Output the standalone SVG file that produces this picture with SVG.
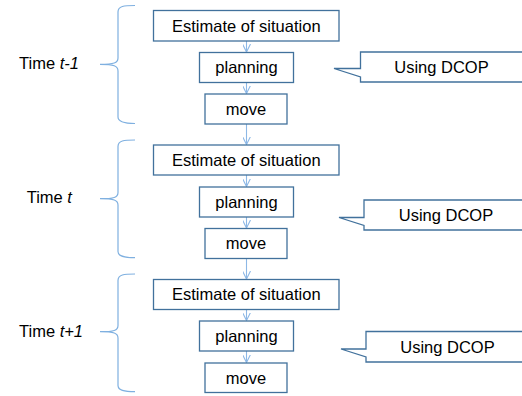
<svg xmlns="http://www.w3.org/2000/svg" width="522" height="396" viewBox="0 0 522 396">
<style>
.box{fill:#fff;stroke:#41719c;stroke-width:1.3}
.t{font-family:"Liberation Sans",Arial,sans-serif;font-size:16.5px;fill:#000}
.c{text-anchor:middle}
.br{fill:none;stroke:#7fb0e0;stroke-width:1.2}
.ar{fill:none;stroke:#8db8e6;stroke-width:1.1}
</style>
<defs>
<marker id="ah" markerWidth="10" markerHeight="8" refX="8" refY="4" orient="auto" markerUnits="userSpaceOnUse">
<path d="M0,0 L8,4 L0,8" fill="none" stroke="#8db8e6" stroke-width="1.1"/>
</marker>
</defs>
<g id="connectors">
<line class="ar" x1="246.5" y1="41" x2="246.5" y2="52" marker-end="url(#ah)"/>
<line class="ar" x1="246.5" y1="82.5" x2="246.5" y2="93.5" marker-end="url(#ah)"/>
<line class="ar" x1="246.5" y1="124" x2="246.5" y2="144.5" marker-end="url(#ah)"/>
<line class="ar" x1="246.5" y1="175" x2="246.5" y2="186.5" marker-end="url(#ah)"/>
<line class="ar" x1="246.5" y1="217" x2="246.5" y2="228" marker-end="url(#ah)"/>
<line class="ar" x1="246.5" y1="258.5" x2="246.5" y2="279" marker-end="url(#ah)"/>
<line class="ar" x1="246.5" y1="309.5" x2="246.5" y2="320.5" marker-end="url(#ah)"/>
<line class="ar" x1="246.5" y1="351" x2="246.5" y2="362.5" marker-end="url(#ah)"/>
</g>
<g id="brace1"><path class="br" d="M135,5.5 C124,5.5 118,6 118,12 L118,58 C118,63 114,64.3 100,64.3 C114,64.3 118,66 118,71 L118,117 C118,122 124,123.5 135,123.5"/><text class="t" x="19" y="69">Time <tspan font-style="italic">t-1</tspan></text></g>
<g id="brace2"><path class="br" d="M135,140 C124,140 118,140.5 118,146.5 L118,192.5 C118,197.5 114,198.7 100,198.7 C114,198.7 118,200 118,205 L118,251.5 C118,256.5 124,257.7 135,257.7"/><text class="t" x="26.7" y="203">Time <tspan font-style="italic">t</tspan></text></g>
<g id="brace3"><path class="br" d="M135,274 C124,274 118,274.5 118,280.5 L118,325.5 C118,330.5 114,331.7 100,331.7 C114,331.7 118,333 118,338 L118,385.5 C118,390.5 124,391.7 135,391.7"/><text class="t" x="19" y="337">Time <tspan font-style="italic">t+1</tspan></text></g>
<g id="est1"><rect class="box" x="153.5" y="10.5" width="185.5" height="30.5"/><text class="t c" x="246.3" y="31.5">Estimate of situation</text></g>
<g id="plan1"><rect class="box" x="199.5" y="52.5" width="94" height="30"/><text class="t c" x="246.5" y="73">planning</text></g>
<g id="move1"><rect class="box" x="205" y="94" width="82" height="30"/><text class="t c" x="246" y="114.5">move</text></g>
<g id="est2"><rect class="box" x="153.5" y="145" width="185.5" height="30"/><text class="t c" x="246.3" y="165.5">Estimate of situation</text></g>
<g id="plan2"><rect class="box" x="199.5" y="187" width="94" height="30"/><text class="t c" x="246.5" y="207.5">planning</text></g>
<g id="move2"><rect class="box" x="205" y="228.5" width="82" height="30"/><text class="t c" x="246" y="249">move</text></g>
<g id="est3"><rect class="box" x="153.5" y="279.5" width="185.5" height="30"/><text class="t c" x="246.3" y="300">Estimate of situation</text></g>
<g id="plan3"><rect class="box" x="199.5" y="321" width="94" height="30"/><text class="t c" x="246.5" y="341.5">planning</text></g>
<g id="move3"><rect class="box" x="205" y="363" width="82" height="29.5"/><text class="t c" x="246" y="383.5">move</text></g>
<g id="call1"><path class="box" d="M360.5,52 L524,52 L524,82 L360.5,82 L360.5,77 L334,68.5 L360.5,68.5 Z"/><text class="t c" x="441.5" y="72.5">Using DCOP</text></g>
<g id="call2"><path class="box" d="M364,200 L530,200 L530,230 L364,230 L364,225.5 L339,217.5 L364,217.5 Z"/><text class="t c" x="446" y="220.5">Using DCOP</text></g>
<g id="call3"><path class="box" d="M366,331.5 L530,331.5 L530,362 L366,362 L366,357 L341,349 L366,349 Z"/><text class="t c" x="447.5" y="352.5">Using DCOP</text></g>
</svg>
